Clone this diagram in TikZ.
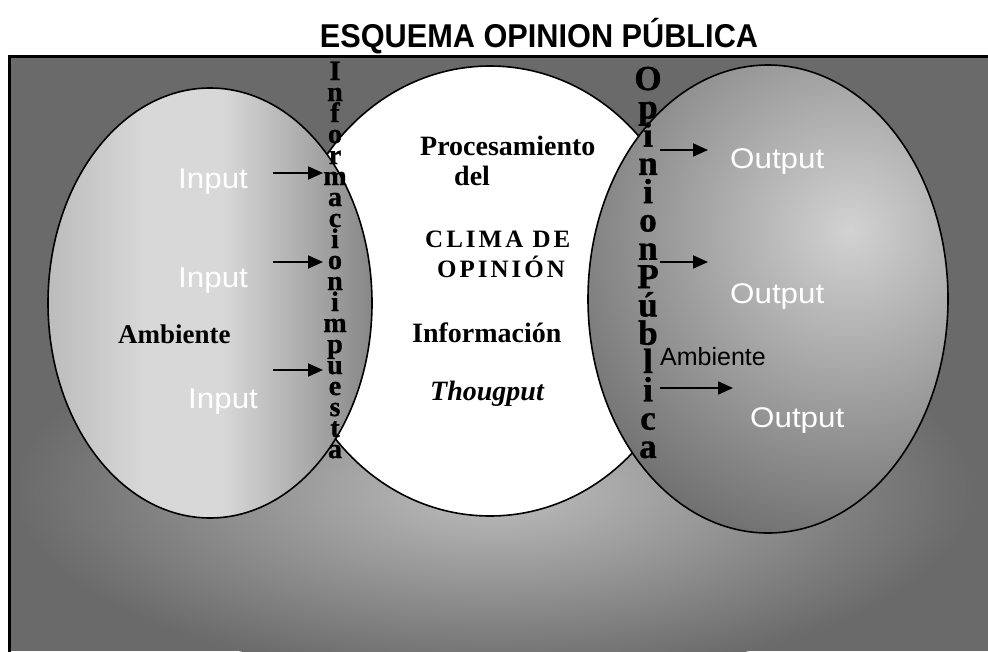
\documentclass[tikz,border=0pt]{standalone}
\usepackage{fontspec}
\setmainfont{Liberation Serif}
\setsansfont{Liberation Sans}
\newfontfamily\arialwide[FakeStretch=1.1]{Liberation Sans}
\newfontfamily\arialnarrow[FakeStretch=0.93]{Liberation Sans}
\newfontfamily\serifspaced[LetterSpace=12]{Liberation Serif}
\newfontfamily\heavyserif[FakeBold=1]{Liberation Serif}
\usetikzlibrary{arrows.meta}

\definecolor{bgdark}{HTML}{6A6A6A}
\definecolor{bglight}{HTML}{BEBEBE}
\definecolor{lA}{HTML}{BCBCBC}
\definecolor{lB}{HTML}{D8D8D8}
\definecolor{lC}{HTML}{878787}
\definecolor{rIn}{HTML}{D2D2D2}
\definecolor{rOut}{HTML}{686868}
\pgfdeclarehorizontalshading{leftellshade}{100bp}{color(0bp)=(lA); color(25bp)=(lA); color(40bp)=(lB); color(52bp)=(lB); color(75bp)=(lC); color(100bp)=(lC)}

\begin{document}
\begin{tikzpicture}[x=1pt,y=-1pt,
  txt/.style={inner sep=0pt, anchor=base west},
  iolab/.style={txt, text=white, font=\arialwide\fontsize{28.5}{30}\selectfont},
  ctr/.style={txt, font=\bfseries\fontsize{28}{30}\selectfont},
  ctrsp/.style={txt, font=\serifspaced\bfseries\fontsize{25}{27}\selectfont},
  vletL/.style={inner sep=0pt, anchor=base, font=\heavyserif\bfseries\fontsize{28}{28}\selectfont},
  vletR/.style={inner sep=0pt, anchor=base, font=\heavyserif\bfseries\fontsize{35}{35}\selectfont},
  arr/.style={line width=2pt, -{Triangle[length=15pt,width=13pt]}},
  ell/.style={line width=1.6pt}
]
\useasboundingbox (0,0) rectangle (988,651);
\fill[white] (0,0) rectangle (988,651);

% title
\node[inner sep=0pt] (title) at (539,36) {\arialnarrow\bfseries\fontsize{33}{36}\selectfont ESQUEMA OPINION PÚBLICA};

% background panel
\begin{scope}
  \clip (9,56) rectangle (988,651);
  \fill[bgdark] (9,56) rectangle (988,651);
  \shade[inner color=bglight, outer color=bgdark] (494,490) ellipse (480pt and 190pt);
\end{scope}
\draw[line width=3pt] (9,700) -- (9,56) -- (1000,56);

% central ellipse
\draw[ell, fill=white] (490,291) ellipse (205pt and 225pt);

% left ellipse
\shade[shading=leftellshade] (210,303) ellipse (162pt and 215pt);
\draw[ell] (210,303) ellipse (162pt and 215pt);

% right ellipse
\begin{scope}
  \clip (768,299) ellipse (180pt and 234pt);
  \shade[inner color=rIn, outer color=rOut] (850,230) circle (350pt);
\end{scope}
\draw[ell] (768,299) ellipse (180pt and 234pt);

% left labels
\node[iolab] (in1) at (178,188) {Input};
\node[iolab] (in2) at (178,287) {Input};
\node[iolab] (in3) at (188,408) {Input};
\node[txt, font=\bfseries\fontsize{27}{29}\selectfont] (ambL) at (118,343) {Ambiente};

% central texts
\node[ctr] (proc) at (420,155) {Procesamiento};
\node[ctr] (del) at (454,185) {del};
\node[ctrsp] (clima) at (425,247) {CLIMA DE};
\node[ctrsp] (opin) at (437,277) {OPINIÓN};
\node[ctr] (info) at (412,342) {Información};
\node[ctr, font=\bfseries\itshape\fontsize{28}{30}\selectfont] (thou) at (430,400) {Thougput};

% right labels
\node[iolab] (out1) at (730,168) {Output};
\node[iolab] (out2) at (730,303) {Output};
\node[iolab] (out3) at (750,427) {Output};
\node[txt, font=\sffamily\fontsize{25}{27}\selectfont] (ambR) at (660,365) {Ambiente};

% arrows
\coordinate (ia1) at (273,173); \coordinate (ib1) at (323,173);
\coordinate (ia2) at (273,262); \coordinate (ib2) at (323,262);
\coordinate (ia3) at (273,370); \coordinate (ib3) at (323,370);
\coordinate (oa1) at (660,150); \coordinate (ob1) at (708,150);
\coordinate (oa2) at (660,262); \coordinate (ob2) at (708,262);
\coordinate (oa3) at (660,388); \coordinate (ob3) at (733,388);
\draw[arr] (ia1) -- (ib1);
\draw[arr] (ia2) -- (ib2);
\draw[arr] (ia3) -- (ib3);
\draw[arr] (oa1) -- (ob1);
\draw[arr] (oa2) -- (ob2);
\draw[arr] (oa3) -- (ob3);

% vertical stacked words
\foreach \ch [count=\i] in {I,n,f,o,r,m,a,c,i,o,n}
  \node[vletL] (lw\i) at (335,{80+(\i-1)*21}) {\ch};
\foreach \ch [count=\i] in {i,m,p,u,e,s,t,a}
  \node[vletL] (lv\i) at (335,{311+(\i-1)*21}) {\ch};
\foreach \ch [count=\i] in {O,p,i,n,i,o,n,P,ú,b,l,i,c,a}
  \node[vletR] (rw\i) at (648,{90+(\i-1)*28.3}) {\ch};
\end{tikzpicture}
\end{document}
